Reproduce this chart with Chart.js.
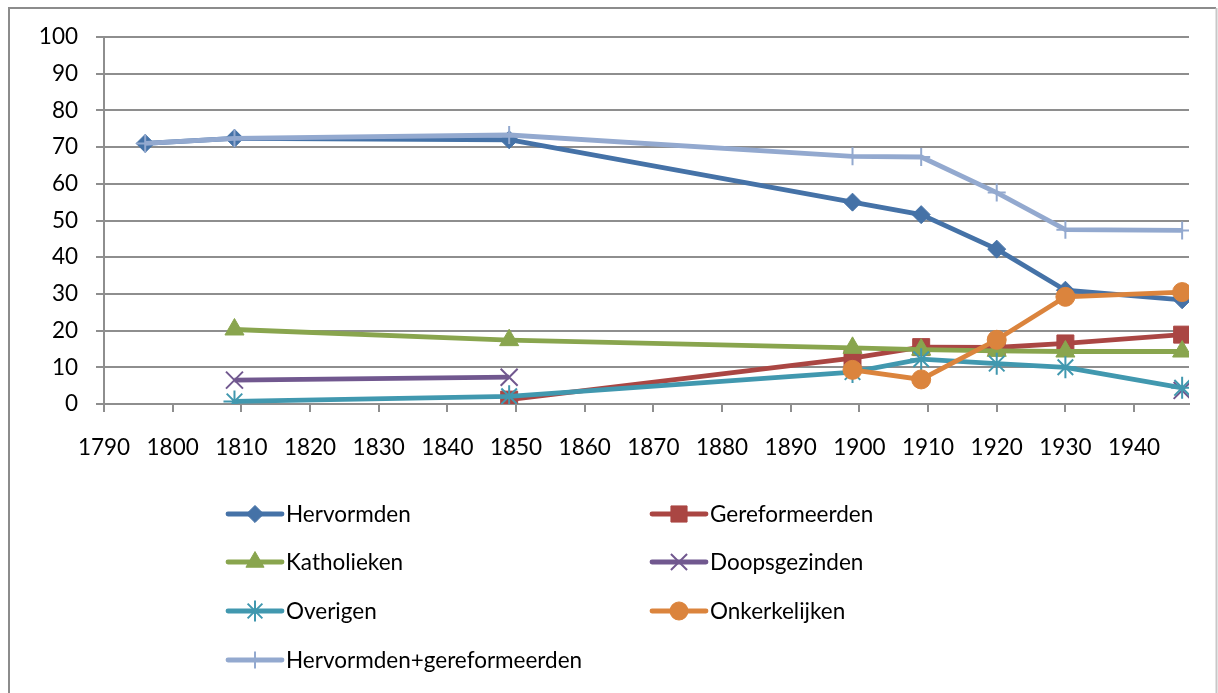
<!DOCTYPE html>
<html>
<head>
<meta charset="utf-8">
<title>Kerkelijke gezindte 1796-1947</title>
<script src="https://cdn.jsdelivr.net/npm/chart.js@4/dist/chart.umd.min.js"></script>
<style>
  html, body { margin: 0; padding: 0; background: #ffffff; }
  #wrap { position: relative; width: 1218px; height: 693px; }
  canvas { display: block; }
</style>
</head>
<body>
<div id="wrap"><canvas id="chart" width="1218" height="693"></canvas></div>
<script>
// Census years
const years = [1796, 1809, 1849, 1899, 1909, 1920, 1930, 1947];

// Share of population per denomination (%)
const hervormden      = [71.0, 72.4, 72.0, 55.0, 51.6, 42.2, 31.0, 28.4];
const gereformeerden  = [null, null, 1.2, 12.5, 15.5, 15.4, 16.5, 18.9];
const katholieken     = [null, 20.3, 17.4, 15.3, 14.8, 14.5, 14.3, 14.3];
const doopsgezinden   = [null, 6.5, 7.3, null, null, null, null, 3.7];
const overigen        = [null, 0.7, 2.1, 8.7, 12.2, 11.0, 10.0, 4.4];
const onkerkelijken   = [null, null, null, 9.3, 6.7, 17.5, 29.2, 30.5];
const hervGeref       = [71.0, 72.4, 73.3, 67.5, 67.3, 57.6, 47.5, 47.3];

const seriesNames = ['Hervormden', 'Gereformeerden', 'Katholieken', 'Doopsgezinden',
                     'Overigen', 'Onkerkelijken', 'Hervormden+gereformeerden'];
const seriesValues = [hervormden, gereformeerden, katholieken, doopsgezinden,
                      overigen, onkerkelijken, hervGeref];

const yTicks = { min: 0, max: 100, step: 10 };
const xTicks = { min: 1790, max: 1948, step: 10 };

// Styling per series
const styles = [
  { color: '#4572A7', point: 'rectRot',  radius: 9,  bw: 1 },
  { color: '#AA4643', point: 'rect',     radius: 12, bw: 1 },
  { color: '#89A54E', point: 'triangle', radius: 11, bw: 1 },
  { color: '#71588F', point: 'crossRot', radius: 12, bw: 2 },
  { color: '#4198AF', point: 'star',     radius: 11, bw: 2 },
  { color: '#DB843D', point: 'circle',   radius: 9.5, bw: 1 },
  { color: '#93A9CF', point: 'cross',    radius: 9,  bw: 2 }
];

const FONT = 'Lato, "DejaVu Sans", sans-serif';
const FONT_SIZE = 22.5;
const GRID = '#8e8e8e';

const toPoints = vals => years.map((yr, i) => ({ x: yr, y: vals[i] }));

const datasets = seriesNames.map((name, i) => ({
  label: name,
  data: toPoints(seriesValues[i]),
  borderColor: styles[i].color,
  backgroundColor: styles[i].color,
  borderWidth: 4.8,
  pointStyle: styles[i].point,
  pointRadius: styles[i].radius,
  pointHoverRadius: styles[i].radius,
  pointBorderWidth: styles[i].bw,
  pointBorderColor: styles[i].color,
  pointBackgroundColor: styles[i].color,
  tension: 0,
  spanGaps: false,
  // later series are painted above earlier ones
  order: seriesNames.length - i
}));

// Frame around the whole chart
const framePlugin = {
  id: 'frame',
  beforeDraw(chart) {
    const ctx = chart.ctx;
    ctx.save();
    ctx.fillStyle = '#ffffff';
    ctx.fillRect(0, 0, chart.width, chart.height);
    ctx.lineWidth = 2;
    ctx.strokeStyle = '#8c8c8c';
    ctx.beginPath();
    ctx.moveTo(9, chart.height + 2);
    ctx.lineTo(9, 8);
    ctx.lineTo(1216, 8);
    ctx.stroke();
    ctx.strokeStyle = '#c8c8c8';
    ctx.beginPath();
    ctx.moveTo(1216.5, 8);
    ctx.lineTo(1216.5, chart.height + 2);
    ctx.stroke();
    ctx.restore();
  }
};

// Two-column legend below the plot
const legendLayout = { colText: [286, 710], rowY: [514, 562, 611, 660], lineLen: 54, gap: 4 };
const legendPlugin = {
  id: 'twoColLegend',
  afterDraw(chart) {
    const ctx = chart.ctx;
    ctx.save();
    chart.data.datasets.forEach((ds, i) => {
      const col = i % 2, row = Math.floor(i / 2);
      const tx = legendLayout.colText[col];
      const y = legendLayout.rowY[row];
      const x1 = tx - legendLayout.gap;
      const x0 = x1 - legendLayout.lineLen;
      ctx.strokeStyle = ds.borderColor;
      ctx.lineWidth = ds.borderWidth;
      ctx.lineCap = 'round';
      ctx.beginPath();
      ctx.moveTo(x0, y);
      ctx.lineTo(x1, y);
      ctx.stroke();
      ctx.fillStyle = ds.pointBackgroundColor;
      ctx.strokeStyle = ds.pointBorderColor;
      ctx.lineWidth = ds.pointBorderWidth;
      ctx.lineCap = 'butt';
      Chart.helpers.drawPoint(ctx, {
        pointStyle: ds.pointStyle,
        radius: ds.pointRadius * 0.95,
        rotation: 0,
        borderWidth: ds.pointBorderWidth
      }, (x0 + x1) / 2, y);
      ctx.fillStyle = '#000000';
      ctx.font = FONT_SIZE + 'px ' + FONT;
      ctx.textAlign = 'left';
      ctx.textBaseline = 'middle';
      ctx.fillText(ds.label, tx, y + 1);
    });
    ctx.restore();
  }
};

Chart.defaults.font.family = FONT;
Chart.defaults.font.size = FONT_SIZE;
Chart.defaults.color = '#000000';

new Chart(document.getElementById('chart'), {
  type: 'line',
  data: { datasets },
  plugins: [framePlugin, legendPlugin],
  options: {
    responsive: false,
    animation: false,
    events: [],
    layout: { padding: { left: 0, right: 29, top: 37, bottom: 229 } },
    plugins: { legend: { display: false }, tooltip: { enabled: false } },
    scales: {
      x: {
        type: 'linear',
        min: xTicks.min,
        max: xTicks.max,
        afterFit(scale) { scale.height = 60; },
        ticks: {
          stepSize: xTicks.step,
          includeBounds: false,
          padding: 22,
          maxRotation: 0,
          autoSkip: false,
          callback: v => String(v)
        },
        grid: { drawOnChartArea: false, drawTicks: true, tickLength: 8, color: GRID, lineWidth: 2 },
        border: { display: true, color: GRID, width: 2 }
      },
      y: {
        type: 'linear',
        min: yTicks.min,
        max: yTicks.max,
        afterFit(scale) { scale.width = 104; },
        ticks: { stepSize: yTicks.step, padding: 18, callback: v => String(v) },
        grid: { color: GRID, lineWidth: 2, tickLength: 8, tickColor: GRID },
        border: { display: true, color: GRID, width: 2 }
      }
    }
  }
});
</script>
</body>
</html>
